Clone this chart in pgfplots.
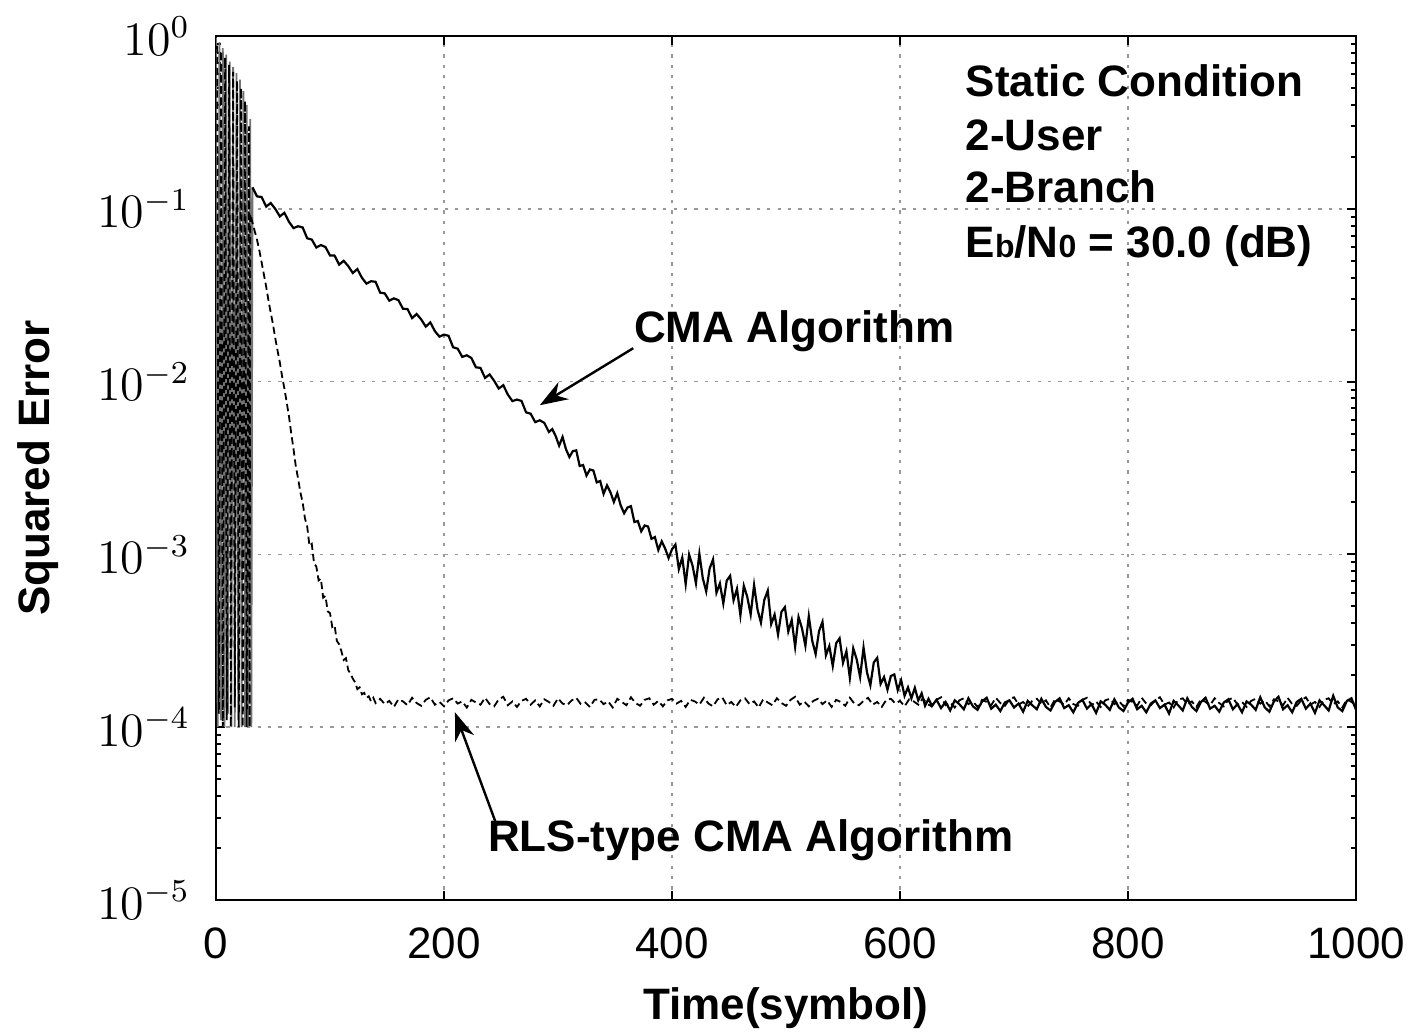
\documentclass[border=0pt]{standalone}
\usepackage{pgfplots}
\pgfplotsset{compat=1.18}
\usepackage{pgfplotstable}
\usepackage{fontspec}
\setmainfont{Liberation Sans}
\usetikzlibrary{arrows.meta}

\pgfplotstableread{
t v
0 0.98
1.5 1.0e-4
3 0.92
4.5 1.1e-4
6 0.85
7.5 1.0e-4
9 0.78
10.5 1.2e-4
12 0.71
13.5 1.0e-4
15 0.66
16.5 1.0e-4
18 0.61
19.5 1.1e-4
21 0.56
22.5 1.0e-4
24 0.48
25.5 1.0e-4
27 0.40
28.5 1.0e-4
30 0.33
31 1.0e-4
32 0.133
}\cmainit

\pgfplotstableread{
t v
32 0.133
36 0.118
40 0.117
44 0.103
48 0.108
52 0.0998
56 0.0904
60 0.0948
64 0.0841
68 0.0773
72 0.0793
76 0.0780
80 0.0675
84 0.0664
88 0.0597
92 0.0617
96 0.0601
100 0.0537
104 0.0536
108 0.0475
112 0.0500
116 0.0466
120 0.0425
124 0.0448
128 0.0399
132 0.0369
136 0.0381
140 0.0378
144 0.0327
148 0.0324
152 0.0294
156 0.0303
160 0.0296
164 0.0264
168 0.0263
172 0.0233
176 0.0246
180 0.0229
184 0.0208
188 0.0220
192 0.0196
196 0.0182
200 0.0187
204 0.0184
208 0.0158
212 0.0155
216 0.0139
220 0.0142
224 0.0137
228 0.0121
232 0.0120
236 0.0105
240 0.0110
244 0.0101
248 0.00912
252 0.00953
256 0.00841
260 0.00771
264 0.00787
268 0.00773
272 0.00664
276 0.00652
280 0.00583
284 0.00597
288 0.00577
292 0.00511
295 0.00531
298 0.00483
301 0.00426
304 0.00478
307 0.00406
310 0.00366
313 0.00396
316 0.00400
319 0.00325
322 0.00329
325 0.00286
328 0.00310
331 0.00306
334 0.00261
337 0.00266
340 0.00224
343 0.00251
346 0.00229
349 0.00201
352 0.00226
355 0.00192
358 0.00173
361 0.00187
364 0.00190
367 0.00154
370 0.00156
373 0.00136
376 0.00147
379 0.00145
382 0.00123
385 0.00126
388 0.00106
391 0.00119
394 0.00108
397 0.000953
400 0.00107
403 0.00114
406 8.22e-4
409 9.59e-4
412 6.73e-4
415 9.98e-4
418 8.61e-4
421 6.81e-4
424 1.01e-3
427 7.28e-4
430 6.11e-4
433 8.28e-4
436 9.35e-4
439 6.00e-4
442 6.79e-4
445 5.20e-4
448 7.05e-4
451 7.52e-4
454 5.43e-4
457 6.32e-4
460 4.44e-4
463 6.58e-4
466 5.68e-4
469 4.49e-4
472 6.65e-4
475 4.80e-4
478 4.03e-4
481 5.46e-4
484 6.17e-4
487 3.95e-4
490 4.48e-4
493 3.44e-4
496 4.65e-4
499 4.95e-4
502 3.58e-4
505 4.17e-4
508 2.92e-4
511 4.34e-4
514 3.74e-4
517 2.96e-4
520 4.39e-4
523 3.16e-4
526 2.65e-4
529 3.60e-4
532 4.07e-4
535 2.61e-4
538 2.95e-4
541 2.26e-4
544 3.06e-4
547 3.27e-4
550 2.36e-4
553 2.75e-4
556 1.93e-4
559 2.86e-4
562 2.47e-4
565 1.95e-4
568 2.89e-4
571 2.08e-4
574 1.75e-4
577 2.37e-4
580 2.52e-4
583 1.78e-4
586 1.95e-4
589 1.65e-4
592 1.98e-4
595 2.02e-4
598 1.64e-4
601 1.87e-4
604 1.52e-4
607 1.70e-4
610 1.47e-4
613 1.69e-4
616 1.43e-4
619 1.57e-4
622 1.33e-4
625 1.46e-4
628 1.33e-4
632 1.44e-4
636 1.29e-4
640 1.40e-4
644 1.25e-4
648 1.43e-4
652 1.36e-4
656 1.27e-4
660 1.47e-4
664 1.32e-4
668 1.26e-4
672 1.41e-4
676 1.48e-4
680 1.28e-4
684 1.35e-4
688 1.24e-4
692 1.39e-4
696 1.43e-4
700 1.30e-4
704 1.37e-4
708 1.23e-4
712 1.42e-4
716 1.34e-4
720 1.27e-4
724 1.46e-4
728 1.31e-4
732 1.25e-4
736 1.40e-4
740 1.47e-4
744 1.29e-4
748 1.34e-4
752 1.22e-4
756 1.38e-4
760 1.44e-4
764 1.28e-4
768 1.36e-4
772 1.21e-4
776 1.41e-4
780 1.35e-4
784 1.26e-4
788 1.45e-4
792 1.30e-4
796 1.24e-4
800 1.39e-4
804 1.46e-4
808 1.27e-4
812 1.33e-4
816 1.22e-4
820 1.37e-4
824 1.43e-4
828 1.29e-4
832 1.35e-4
836 1.20e-4
840 1.42e-4
844 1.34e-4
848 1.25e-4
852 1.47e-4
856 1.31e-4
860 1.24e-4
864 1.40e-4
868 1.48e-4
872 1.28e-4
876 1.33e-4
880 1.23e-4
884 1.39e-4
888 1.45e-4
892 1.27e-4
896 1.36e-4
900 1.22e-4
904 1.41e-4
908 1.35e-4
912 1.26e-4
916 1.49e-4
920 1.30e-4
924 1.23e-4
928 1.41e-4
932 1.50e-4
936 1.27e-4
940 1.34e-4
944 1.22e-4
948 1.40e-4
952 1.46e-4
956 1.28e-4
960 1.37e-4
964 1.21e-4
968 1.43e-4
972 1.34e-4
976 1.25e-4
980 1.52e-4
984 1.30e-4
988 1.24e-4
992 1.42e-4
996 1.47e-4
1000 1.26e-4
}\cmadata

\pgfplotstableread{
t v
1 0.88
2.5 1.2e-4
4.5 0.82
6 1.0e-4
8 0.75
9.5 1.1e-4
11.5 0.68
13 1.0e-4
15 0.62
16.5 1.3e-4
18.5 0.55
20 1.0e-4
22 0.50
23.5 1.0e-4
25.5 0.42
27 1.0e-4
29 0.30
29.5 1.0e-4
30 0.0933
32 0.0832
34 0.0741
36 0.0661
38 0.0575
40 0.0490
42 0.0417
44 0.0355
46 0.0295
48 0.0251
50 0.0214
52 0.0178
54 0.0151
56 0.0129
58 0.0107
60 0.00912
62 0.00759
64 0.00631
66 0.00501
68 0.00407
70 0.00324
72 0.00275
74 0.00229
76 0.00200
78 0.00162
80 0.00145
82 0.00112
84 0.00115
86 8.91e-4
88 8.51e-4
90 7.08e-4
92 7.24e-4
94 5.62e-4
96 5.75e-4
98 4.68e-4
100 4.57e-4
102 3.80e-4
104 3.89e-4
106 3.16e-4
108 3.02e-4
110 2.75e-4
112 2.45e-4
114 2.51e-4
116 2.14e-4
118 2.04e-4
120 1.91e-4
122 1.82e-4
124 1.66e-4
126 1.70e-4
128 1.55e-4
130 1.58e-4
132 1.48e-4
134 1.51e-4
136 1.41e-4
138 1.48e-4
140 1.38e-4
144 1.46e-4
148 1.36e-4
152 1.42e-4
156 1.31e-4
160 1.45e-4
164 1.41e-4
168 1.34e-4
172 1.48e-4
176 1.38e-4
180 1.33e-4
184 1.44e-4
188 1.49e-4
192 1.35e-4
196 1.40e-4
200 1.32e-4
204 1.43e-4
208 1.47e-4
212 1.37e-4
216 1.41e-4
220 1.30e-4
224 1.44e-4
228 1.39e-4
232 1.35e-4
236 1.48e-4
240 1.36e-4
244 1.32e-4
248 1.45e-4
252 1.50e-4
256 1.34e-4
260 1.41e-4
264 1.31e-4
268 1.42e-4
272 1.46e-4
276 1.35e-4
280 1.43e-4
284 1.32e-4
288 1.45e-4
292 1.40e-4
296 1.33e-4
300 1.47e-4
304 1.37e-4
308 1.34e-4
312 1.43e-4
316 1.48e-4
320 1.36e-4
324 1.39e-4
328 1.31e-4
332 1.44e-4
336 1.45e-4
340 1.36e-4
344 1.41e-4
348 1.30e-4
352 1.46e-4
356 1.40e-4
360 1.34e-4
364 1.49e-4
368 1.38e-4
372 1.33e-4
376 1.44e-4
380 1.47e-4
384 1.35e-4
388 1.42e-4
392 1.32e-4
396 1.43e-4
400 1.46e-4
404 1.37e-4
408 1.42e-4
412 1.31e-4
416 1.44e-4
420 1.41e-4
424 1.35e-4
428 1.48e-4
432 1.37e-4
436 1.32e-4
440 1.45e-4
444 1.49e-4
448 1.34e-4
452 1.40e-4
456 1.31e-4
460 1.43e-4
464 1.47e-4
468 1.36e-4
472 1.41e-4
476 1.30e-4
480 1.45e-4
484 1.39e-4
488 1.34e-4
492 1.47e-4
496 1.38e-4
500 1.33e-4
504 1.44e-4
508 1.50e-4
512 1.35e-4
516 1.41e-4
520 1.32e-4
524 1.42e-4
528 1.46e-4
532 1.36e-4
536 1.43e-4
540 1.31e-4
544 1.44e-4
548 1.40e-4
552 1.33e-4
556 1.48e-4
560 1.37e-4
564 1.34e-4
568 1.42e-4
572 1.48e-4
576 1.35e-4
580 1.40e-4
584 1.31e-4
588 1.44e-4
592 1.46e-4
596 1.37e-4
600 1.42e-4
604 1.32e-4
608 1.45e-4
612 1.41e-4
616 1.35e-4
620 1.47e-4
624 1.36e-4
628 1.32e-4
632 1.44e-4
636 1.49e-4
640 1.34e-4
644 1.39e-4
648 1.30e-4
652 1.43e-4
656 1.47e-4
660 1.36e-4
664 1.41e-4
668 1.31e-4
672 1.44e-4
676 1.40e-4
680 1.34e-4
684 1.48e-4
688 1.38e-4
692 1.33e-4
696 1.45e-4
700 1.49e-4
704 1.35e-4
708 1.40e-4
712 1.32e-4
716 1.42e-4
720 1.46e-4
724 1.37e-4
728 1.43e-4
732 1.30e-4
736 1.45e-4
740 1.41e-4
744 1.35e-4
748 1.47e-4
752 1.36e-4
756 1.33e-4
760 1.44e-4
764 1.48e-4
768 1.34e-4
772 1.41e-4
776 1.31e-4
780 1.43e-4
784 1.46e-4
788 1.36e-4
792 1.42e-4
796 1.32e-4
800 1.44e-4
804 1.40e-4
808 1.33e-4
812 1.48e-4
816 1.37e-4
820 1.34e-4
824 1.43e-4
828 1.49e-4
832 1.35e-4
836 1.39e-4
840 1.30e-4
844 1.44e-4
848 1.47e-4
852 1.36e-4
856 1.41e-4
860 1.31e-4
864 1.45e-4
868 1.40e-4
872 1.34e-4
876 1.47e-4
880 1.38e-4
884 1.32e-4
888 1.44e-4
892 1.48e-4
896 1.35e-4
900 1.40e-4
904 1.31e-4
908 1.42e-4
912 1.46e-4
916 1.37e-4
920 1.43e-4
924 1.32e-4
928 1.45e-4
932 1.41e-4
936 1.34e-4
940 1.48e-4
944 1.36e-4
948 1.33e-4
952 1.43e-4
956 1.49e-4
960 1.35e-4
964 1.40e-4
968 1.31e-4
972 1.44e-4
976 1.47e-4
980 1.36e-4
984 1.41e-4
988 1.30e-4
992 1.45e-4
996 1.40e-4
1000 1.35e-4
}\rlsdata

\begin{document}
\begin{tikzpicture}
\path[use as bounding box] (-54pt,-33.5pt) rectangle (298.5pt,225pt);
\begin{axis}[
  at={(0,0)}, anchor=south west,
  scale only axis, width=285pt, height=216pt,
  ymode=log, xmin=0, xmax=1000, ymin=1e-5, ymax=1,
  xtick={0,200,400,600,800,1000},
  xticklabels={0,200,400,600,800,1000},
  grid=major,
  major grid style={gray!80, line width=0.4pt, dash pattern=on 0.8pt off 1.8pt},
  axis line style={line width=0.6pt},
  every tick/.style={black, line width=0.5pt},
  major tick length=2.2pt, minor tick length=1.3pt,
  tick align=inside,
  xticklabel style={font=\fontsize{11}{13}\selectfont, yshift=-3.5pt},
  yticklabel style={font=\fontsize{11.5}{13}\selectfont, xshift=-3pt},
  xlabel={Time(symbol)}, ylabel={Squared Error},
  xlabel style={font=\bfseries\fontsize{11}{13}\selectfont, at={(axis description cs:0.5,-0.125)}, anchor=center},
  ylabel style={font=\bfseries\fontsize{11}{13}\selectfont, at={(axis description cs:-0.156,0.5)}, anchor=center},
]
\addplot[black!55, line width=0.45pt] table[x=t, y=v] {\cmainit};
\addplot[black, line width=0.55pt] table[x=t, y=v] {\cmadata};
\addplot[black, line width=0.45pt, dash pattern=on 1.8pt off 1pt] table[x=t, y=v] {\rlsdata};

\begin{scope}[every node/.style={font=\bfseries\fontsize{11}{13}\selectfont, inner sep=0pt}]
\node[anchor=base west] at (axis cs:657,0.4436) {Static Condition};
\node[anchor=base west] at (axis cs:657,0.2188) {2-User};
\node[anchor=base west] at (axis cs:657,0.1081) {2-Branch};
\node[anchor=base west] at (axis cs:657,0.0526) {E{\fontsize{8}{9}\selectfont b}/N{\fontsize{8}{9}\selectfont 0} = 30.0 (dB)};
\node[anchor=base west] at (axis cs:366,0.0169) {CMA Algorithm};
\node[anchor=base west] at (axis cs:238,1.9e-5) {RLS-type CMA Algorithm};
\end{scope}
\draw[line width=0.6pt, -{Stealth[length=7pt,width=5pt]}] (axis cs:366,0.0156) -- (axis cs:284,7.3e-3);
\draw[line width=0.6pt, -{Stealth[length=7pt,width=5pt]}] (axis cs:246.5,2.68e-5) -- (axis cs:209.6,1.22e-4);
\end{axis}
\end{tikzpicture}
\end{document}
